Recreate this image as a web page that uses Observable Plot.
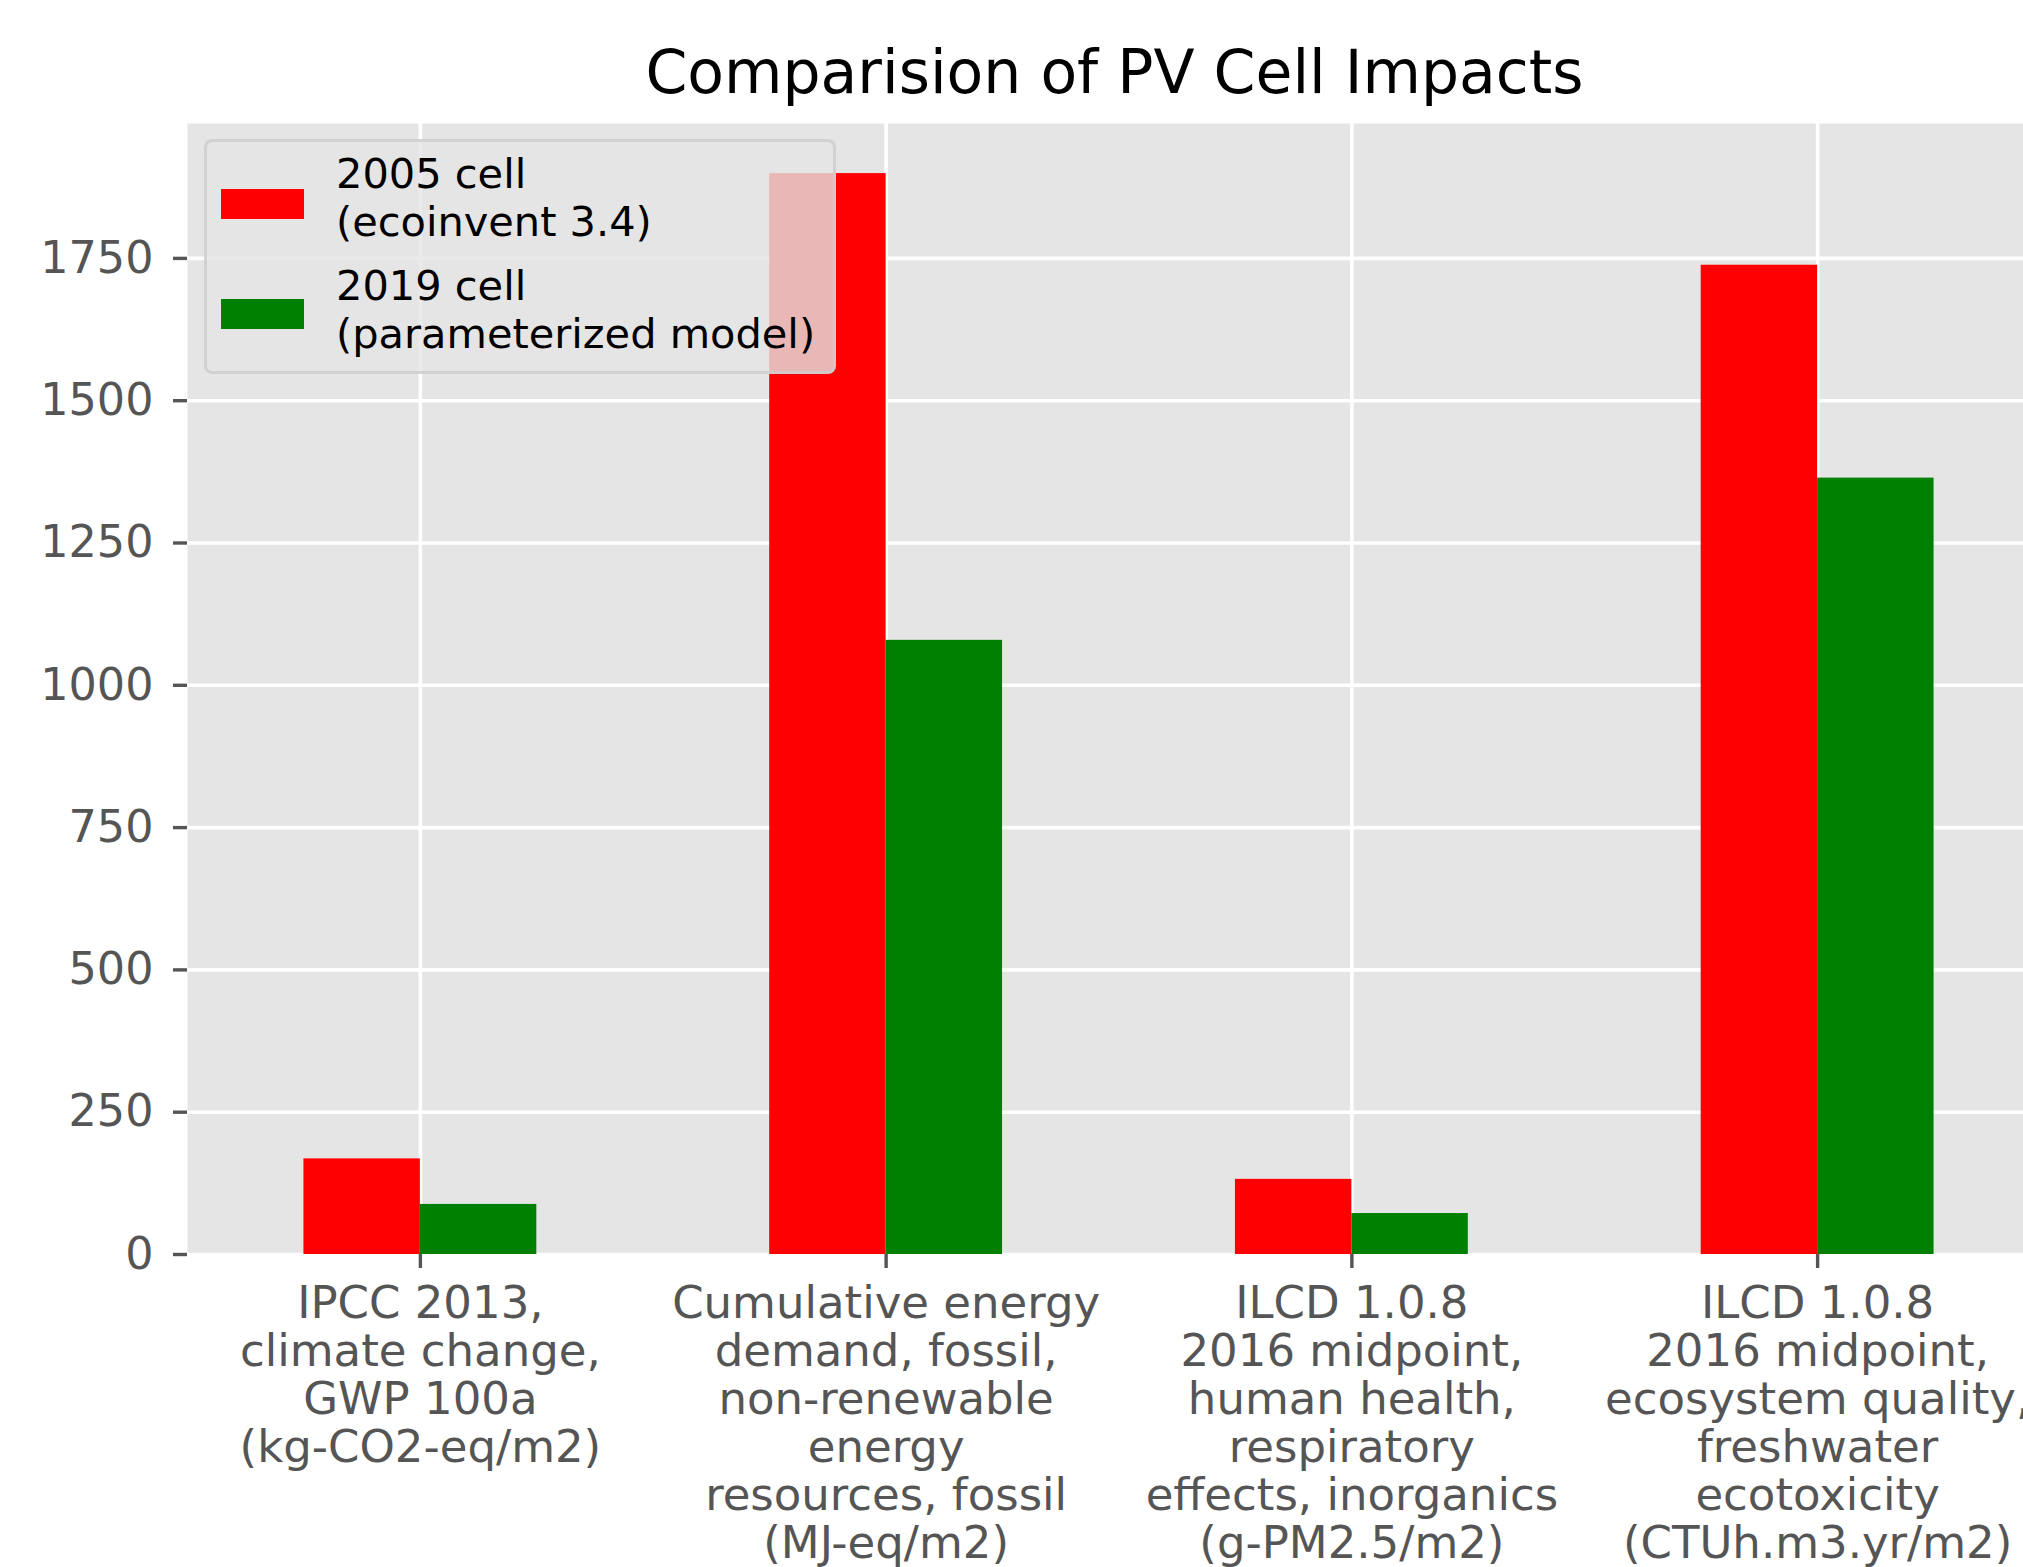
<!DOCTYPE html>
<html><head><meta charset="utf-8">
<script src="https://cdn.jsdelivr.net/npm/d3@7"></script>
<script src="https://cdn.jsdelivr.net/npm/@observablehq/plot@0.6"></script>
<style>
html,body{margin:0;padding:0;background:#fff;overflow:hidden;}
#wrap{position:relative;width:2023px;height:1567px;font-family:"DejaVu Sans";overflow:hidden;}
#title{position:absolute;left:183px;width:1863px;top:37px;text-align:center;font-size:60px;line-height:normal;color:#000;white-space:nowrap;}
#chart{position:absolute;left:0;top:103px;}
.legbox{position:absolute;left:204px;top:139px;width:632px;height:235px;box-sizing:border-box;background:rgba(229,229,229,0.8);border:3px solid rgba(204,204,204,0.8);border-radius:8px;}
.patch{position:absolute;left:221px;width:83px;height:30px;}
.ltext{position:absolute;left:336px;font-size:41.5px;line-height:48px;color:#000;white-space:pre;}
</style></head>
<body><div id="wrap"><div id="title"></div><div id="chart"></div></div>
<script>
const titleText = "Comparision of PV Cell Impacts";
const categories = [
  "IPCC 2013,\nclimate change,\nGWP 100a\n(kg-CO2-eq/m2)",
  "Cumulative energy\ndemand, fossil,\nnon-renewable\nenergy\nresources, fossil\n(MJ-eq/m2)",
  "ILCD 1.0.8\n2016 midpoint,\nhuman health,\nrespiratory\neffects, inorganics\n(g-PM2.5/m2)",
  "ILCD 1.0.8\n2016 midpoint,\necosystem quality,\nfreshwater\necotoxicity\n(CTUh.m3.yr/m2)"
];
const impact2005 = [168, 1899, 132, 1738];
const impact2019 = [88, 1079, 72, 1364];
const seriesLabels = ["2005 cell\n(ecoinvent 3.4)", "2019 cell\n(parameterized model)"];
const seriesColors = ["#ff0000", "#008000"];
const yTicks = [0, 250, 500, 750, 1000, 1250, 1500, 1750];

document.getElementById("title").textContent = titleText;

const W = 2023, H = 1464;
const xRange = [187, 2050];
const bw = (xRange[1] - xRange[0]) / categories.length;
const rows = categories.map((c, i) => ({cat: c, v2005: impact2005[i], v2019: impact2019[i]}));

const plot = Plot.plot({
  width: W, height: H,
  marginTop: 20, marginBottom: 313, marginLeft: 187, marginRight: 0,
  style: {fontFamily: "DejaVu Sans", background: "transparent"},
  x: {domain: categories, range: xRange, padding: 0, round: false, label: null},
  y: {domain: [0, 1987], label: null},
  marks: [
    Plot.frame({fill: "#e5e5e5", stroke: "none"}),
    Plot.gridX({stroke: "white", strokeWidth: 3.6, strokeOpacity: 1}),
    Plot.gridY(yTicks, {stroke: "white", strokeWidth: 3.6, strokeOpacity: 1}),
    Plot.barY(rows, {x: "cat", y: "v2005", fill: seriesColors[0], insetLeft: bw * 0.25, insetRight: bw * 0.5}),
    Plot.barY(rows, {x: "cat", y: "v2019", fill: seriesColors[1], insetLeft: bw * 0.5, insetRight: bw * 0.25}),
    Plot.axisY(yTicks, {tickSize: 14, tickPadding: 20, fontSize: 44.5, fill: "#555", stroke: "#555", strokeWidth: 3.4, strokeOpacity: 1, tickFormat: d => String(d), label: null}),
    Plot.axisX({tickSize: 14, tickPadding: 15, fontSize: 45, lineHeight: 1.067, fill: "#555", stroke: "#555", strokeWidth: 3.4, strokeOpacity: 1, label: null})
  ]
});
document.getElementById("chart").appendChild(plot);

// legend (inside plot area, semi-transparent box like matplotlib)
const wrap = document.getElementById("wrap");
const box = document.createElement("div");
box.className = "legbox";
wrap.appendChild(box);
seriesLabels.forEach((lab, i) => {
  const p = document.createElement("div");
  p.className = "patch";
  p.style.top = (189 + i * 110) + "px";
  p.style.background = seriesColors[i];
  wrap.appendChild(p);
  const t = document.createElement("div");
  t.className = "ltext";
  t.style.top = (150 + i * 112) + "px";
  t.textContent = lab;
  wrap.appendChild(t);
});
</script>
</body></html>
